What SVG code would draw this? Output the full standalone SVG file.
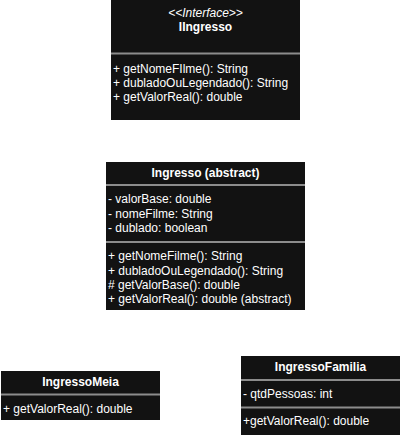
<svg xmlns="http://www.w3.org/2000/svg" width="401" height="437" viewBox="0 0 401 437">
<style>
.box{fill:#121212;stroke:none}
.div{stroke:#8c8c8c;stroke-width:2}
text{font-family:"Liberation Sans",Arial,sans-serif;font-size:12px;fill:#ffffff}
.h{font-weight:bold;text-anchor:middle}
.st{font-style:italic;text-anchor:middle}
</style>
<rect width="401" height="437" fill="#ffffff"/>
<g id="IIngresso">
<rect class="box" x="111" y="0" width="189" height="120"/>
<text class="st" x="205.5" y="17">&lt;&lt;Interface&gt;&gt;</text>
<text class="h" x="205.5" y="30.5">IIngresso</text>
<line class="div" x1="111" y1="53.5" x2="300" y2="53.5"/>
<text x="113" y="72.5">+ getNomeFIlme(): String</text>
<text x="113" y="86.5">+ dubladoOuLegendado(): String</text>
<text x="113" y="101">+ getValorReal(): double</text>
</g>
<g id="Ingresso">
<rect class="box" x="106" y="162" width="199" height="148"/>
<text class="h" x="205.5" y="176.5">Ingresso (abstract)</text>
<line class="div" x1="106" y1="185" x2="305" y2="185"/>
<text x="108" y="203">- valorBase: double</text>
<text x="108" y="217.5">- nomeFilme: String</text>
<text x="108" y="232">- dublado: boolean</text>
<line class="div" x1="106" y1="242" x2="305" y2="242"/>
<text x="108" y="260">+ getNomeFilme(): String</text>
<text x="108" y="274.5">+ dubladoOuLegendado(): String</text>
<text x="108" y="288.5"># getValorBase(): double</text>
<text x="108" y="303">+ getValorReal(): double (abstract)</text>
</g>
<g id="IngressoMeia">
<rect class="box" x="1" y="371" width="159" height="49"/>
<text class="h" x="80.5" y="386">IngressoMeia</text>
<line class="div" x1="1" y1="394.5" x2="160" y2="394.5"/>
<text x="3" y="413">+ getValorReal(): double</text>
</g>
<g id="IngressoFamilia">
<rect class="box" x="241" y="356" width="159" height="79"/>
<text class="h" x="320.5" y="371">IngressoFamilia</text>
<line class="div" x1="241" y1="380" x2="400" y2="380"/>
<text x="243" y="398">- qtdPessoas: int</text>
<line class="div" x1="241" y1="407.5" x2="400" y2="407.5"/>
<text x="243" y="425">+getValorReal(): double</text>
</g>
<g id="connectors"/>
</svg>
